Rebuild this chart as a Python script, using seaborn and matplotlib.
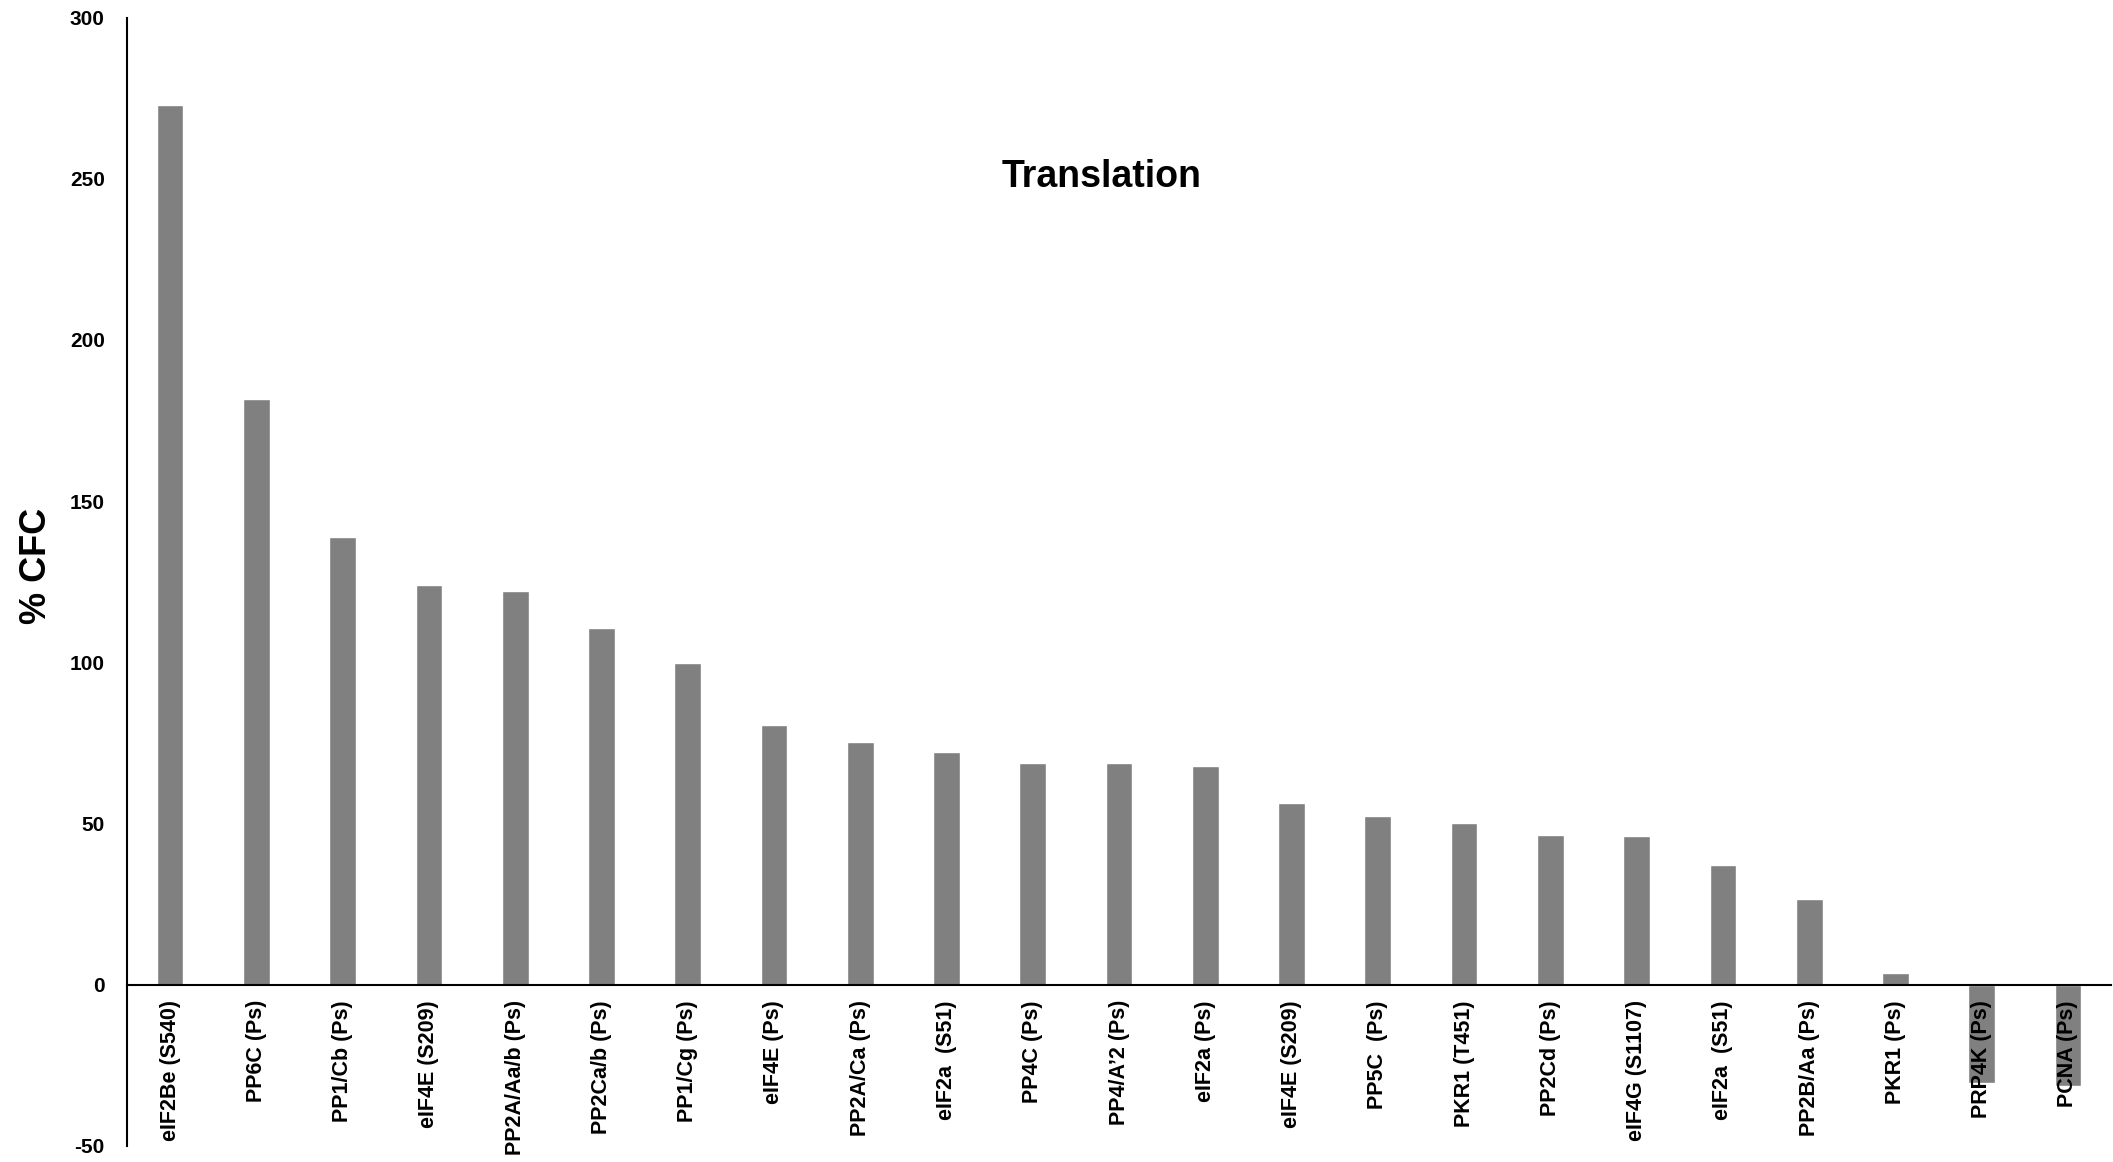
import numpy as np
import pandas as pd
import matplotlib
matplotlib.use("Agg")
import matplotlib.pyplot as plt
import seaborn as sns

# Data
labels = [
    "eIF2Be (S540)", "PP6C (Ps)", "PP1/Cb (Ps)", "eIF4E (S209)", "PP2A/Aa/b (Ps)",
    "PP2Ca/b (Ps)", "PP1/Cg (Ps)", "eIF4E (Ps)", "PP2A/Ca (Ps)", "eIF2a  (S51)",
    "PP4C (Ps)", "PP4/A\u20192 (Ps)", "eIF2a (Ps)", "eIF4E (S209)", "PP5C  (Ps)",
    "PKR1 (T451)", "PP2Cd (Ps)", "eIF4G (S1107)", "eIF2a  (S51)", "PP2B/Aa (Ps)",
    "PKR1 (Ps)", "PRP4K (Ps)", "PCNA (Ps)",
]
cfc = [273, 181.7, 139, 124, 122, 110.7, 99.9, 80.6, 75.2, 72.3,
       68.9, 68.9, 67.7, 56.4, 52.2, 50.1, 46.4, 46.0, 37.2, 26.7,
       3.8, -30.4, -31.3]
yticks = [-50, 0, 50, 100, 150, 200, 250, 300]

sns.set_style("white")
plt.rcParams['font.family'] = ['Liberation Sans', 'DejaVu Sans']
plt.rcParams['text.color'] = 'black'
plt.rcParams['axes.labelcolor'] = 'black'
plt.rcParams['xtick.color'] = 'black'
plt.rcParams['ytick.color'] = 'black'

# some labels repeat, so bars are keyed by position
df = pd.DataFrame({"pos": np.arange(len(labels)), "cfc": cfc})

fig = plt.figure(figsize=(21.13, 11.62), dpi=100)
ax = fig.add_axes([0.0601, 0.0138, 0.939, 0.9711])
sns.barplot(data=df, x="pos", y="cfc", color="#808080", saturation=1,
            width=0.31, ax=ax)

# x axis sits on zero (do this before styling ticks, it resets them)
ax.spines["top"].set_visible(False)
ax.spines["right"].set_visible(False)
ax.spines["bottom"].set_position(("data", 0))
for s in ["left", "bottom"]:
    ax.spines[s].set_color("black")
    ax.spines[s].set_linewidth(1.5)
ax.set_axisbelow(False)  # labels drawn over the negative bars

ax.set_ylim(-50, 300)
ax.set_xlim(-0.5, len(labels) - 0.5)
ax.set_yticks(yticks)
ax.set_yticklabels([str(t) for t in yticks], fontsize=15, fontweight="bold")
ax.set_xticks(df["pos"])
ax.set_xticklabels(labels, rotation=90, fontsize=15.5, fontweight="bold", va="top")
ax.tick_params(axis="both", length=0)
ax.tick_params(axis="x", pad=11)
ax.tick_params(axis="y", pad=16)

ax.set_xlabel("")
ax.set_ylabel("% CFC", fontsize=26, fontweight="bold")
ax.yaxis.set_label_coords(-0.0368, 0.514)

ax.text(0.491, 0.859, "Translation", transform=ax.transAxes, ha="center",
        va="center", fontsize=27, fontweight="bold")

fig.savefig("out.png", dpi=100)
